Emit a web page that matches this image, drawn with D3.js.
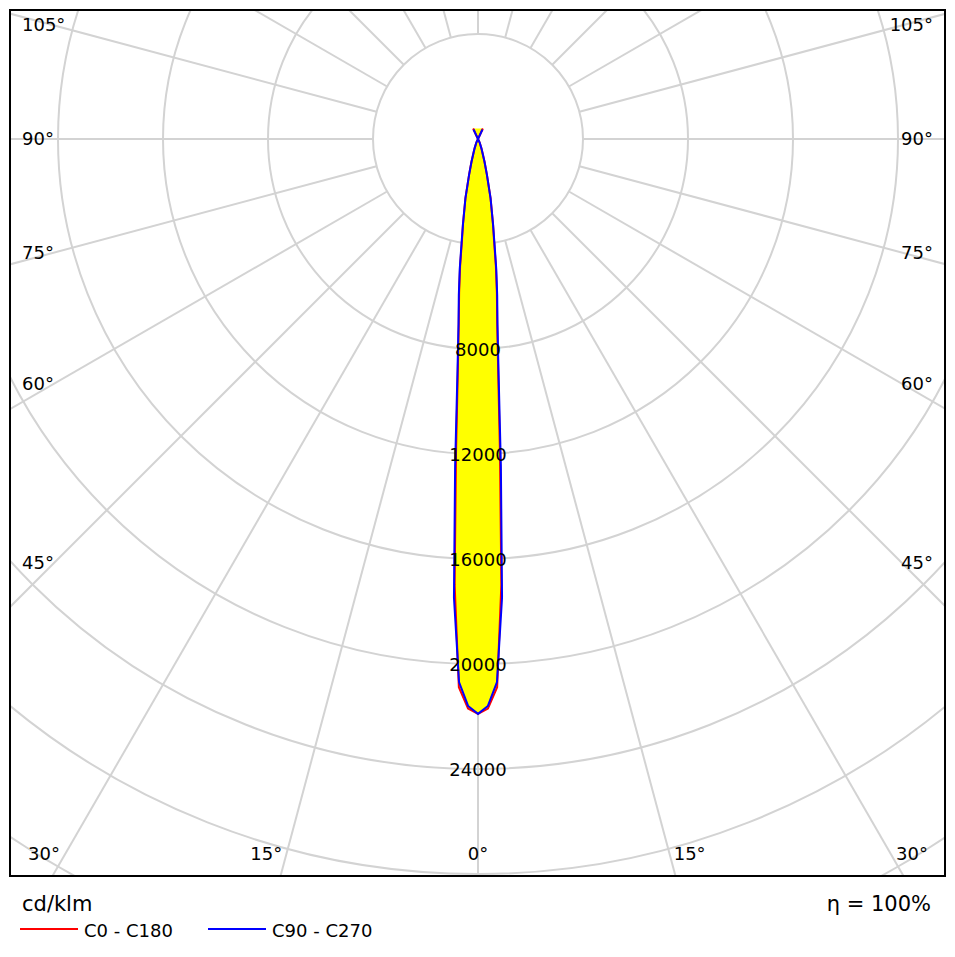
<!DOCTYPE html>
<meta charset="utf-8">
<style>
body { margin: 0; background: #fff; }
text { font-family: "DejaVu Sans", sans-serif; }
</style>
<body>
<script src="https://cdn.jsdelivr.net/npm/d3@7"></script>
<script>
// photometric data, cd/klm
var angles = [0, 1, 2, 3, 4, 5, 6, 7, 8, 9, 10, 12, 14, 16, 18, 20, 25, 30, 60, 90, 120, 150, 155];
var c0c180 = [21900, 21700, 20900, 17000, 12000, 8800, 7000, 5900, 4900, 3900, 3300, 2300, 1400, 900, 550, 380, 150, 0, 0, 0, 0, 0, 440];
var c90c270 = [21900, 21600, 20700, 17500, 12500, 9000, 7100, 6000, 5000, 4000, 3300, 2300, 1400, 900, 550, 380, 150, 0, 0, 0, 0, 0, 400];
var ringValues = [4000, 8000, 12000, 16000, 20000, 24000, 28000, 32000, 36000, 40000];
var ringLabels = [8000, 12000, 16000, 20000, 24000];
var spokeAngles = d3.range(0, 181, 15);
var angleLabels = [0, 15, 30, 45, 60, 75, 90, 105];

var W = 955, H = 957;
var frame = {x0: 10, y0: 10, x1: 945, y1: 876};
var cx = 478, cy = 139;

var r = d3.scaleLinear().domain([0, 4000]).range([0, 105]);

var svg = d3.select("body").append("svg").attr("width", W).attr("height", H);
svg.append("clipPath").attr("id", "clip").append("rect")
  .attr("x", frame.x0).attr("y", frame.y0)
  .attr("width", frame.x1 - frame.x0).attr("height", frame.y1 - frame.y0);

var g = svg.append("g").attr("clip-path", "url(#clip)");

// angle measured from straight down, side = +1 right, -1 left
function pt(a, v, side) {
  var rad = a * Math.PI / 180;
  return [cx + side * r(v) * Math.sin(rad), cy + r(v) * Math.cos(rad)];
}

// grid
g.selectAll(".ring").data(ringValues).enter().append("circle")
  .attr("cx", cx).attr("cy", cy).attr("r", function(d) { return r(d); })
  .attr("fill", "none").attr("stroke", "#d3d3d3").attr("stroke-width", 2);

[1, -1].forEach(function(side) {
  g.selectAll(".spoke" + side).data(spokeAngles).enter().append("line")
    .attr("x1", function(d) { return pt(d, 4000, side)[0]; })
    .attr("y1", function(d) { return pt(d, 4000, side)[1]; })
    .attr("x2", function(d) { return pt(d, 60000, side)[0]; })
    .attr("y2", function(d) { return pt(d, 60000, side)[1]; })
    .attr("stroke", "#d3d3d3").attr("stroke-width", 2);
});

// curves
function curvePoints(vals) {
  var right = angles.map(function(a, i) { return pt(a, vals[i], 1); });
  var left = angles.map(function(a, i) { return pt(a, vals[i], -1); }).reverse();
  return left.concat(right.slice(1));
}
var line = d3.line();
g.append("path").attr("d", line(curvePoints(c0c180)) + "Z").attr("fill", "#ffff00");
g.append("path").attr("d", line(curvePoints(c0c180))).attr("fill", "none")
  .attr("stroke", "#ff0000").attr("stroke-width", 2);
g.append("path").attr("d", line(curvePoints(c90c270))).attr("fill", "none")
  .attr("stroke", "#0000ff").attr("stroke-width", 2);

// ring labels
svg.selectAll(".rl").data(ringLabels).enter().append("text")
  .attr("x", cx).attr("y", function(d) { return cy + r(d) + 7; })
  .attr("text-anchor", "middle").attr("font-size", 18).attr("fill", "#000")
  .text(function(d) { return d; });

// angle labels along the frame
var edgeX = 456, bottomY = 790;
[1, -1].forEach(function(side) {
  angleLabels.forEach(function(a) {
    if (a === 0 && side < 0) return;
    var rad = a * Math.PI / 180, dx = Math.sin(rad), dy = Math.cos(rad);
    var t = svg.append("text").attr("font-size", 18).text(a + "°");
    if (a > 35) {
      var y = cy + 0.93 * edgeX * dy / dx + 6;
      t.attr("y", y)
        .attr("x", side > 0 ? 933 : 22)
        .attr("text-anchor", side > 0 ? "end" : "start");
    } else {
      var x = cx + side * Math.min(bottomY * dx / dy, 434);
      t.attr("x", x).attr("y", 860).attr("text-anchor", "middle");
    }
  });
});

// frame
svg.append("rect").attr("x", frame.x0).attr("y", frame.y0)
  .attr("width", frame.x1 - frame.x0).attr("height", frame.y1 - frame.y0)
  .attr("fill", "none").attr("stroke", "#000").attr("stroke-width", 2);

// footer
svg.append("text").attr("x", 22).attr("y", 911).attr("font-size", 21).text("cd/klm");
svg.append("text").attr("x", 931).attr("y", 911).attr("font-size", 21)
  .attr("text-anchor", "end").text("η = 100%");
var legend = [{name: "C0 - C180", color: "#ff0000", x: 20}, {name: "C90 - C270", color: "#0000ff", x: 208}];
legend.forEach(function(d) {
  svg.append("line").attr("x1", d.x).attr("x2", d.x + 58).attr("y1", 929).attr("y2", 929)
    .attr("stroke", d.color).attr("stroke-width", 2);
  svg.append("text").attr("x", d.x + 64).attr("y", 937).attr("font-size", 18).text(d.name);
});
</script>
</body>
